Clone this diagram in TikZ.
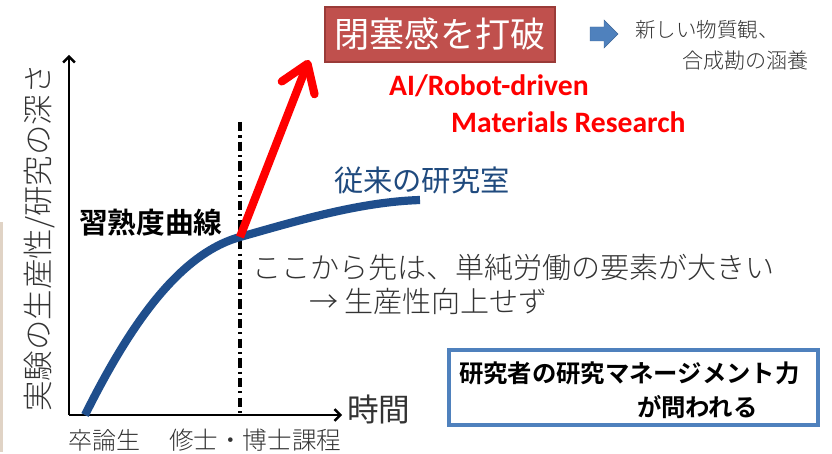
\documentclass[tikz,border=0pt]{standalone}
\usepackage{fontspec}
\IfFontExistsTF{Noto Sans CJK JP Light}
  {\newfontfamily\jp[BoldFont={Noto Sans CJK JP Bold}]{Noto Sans CJK JP Light}}
  {\newfontfamily\jp{Noto Sans CJK JP}}
\newfontfamily\jpr{Noto Sans CJK JP}
\newfontfamily\en{Carlito}
\usetikzlibrary{arrows.meta}
\definecolor{curveblue}{HTML}{1F4E8C}
\definecolor{labblue}{HTML}{1F4A7E}
\definecolor{boxred}{HTML}{C0504D}
\definecolor{boxredline}{HTML}{9A3B38}
\definecolor{accblue}{HTML}{4F81BD}
\definecolor{txtgray}{HTML}{333333}
\newcommand\fsz[1]{\fontsize{#1}{#1}\selectfont}
\tikzset{
  txt/.style={inner sep=0pt, outer sep=0pt, font=\jp, text=txtgray},
  axis/.style={line width=2.1pt, -{Straight Barb[length=5pt,width=10pt]}},
}
\begin{document}
\begin{tikzpicture}[x=0.03cm,y=-0.03cm]
\useasboundingbox (0,0) rectangle (832,454);
% faint strip at the left edge
\fill[brown!60!gray, opacity=0.35] (0,222) rectangle (3,452);

% axes
\coordinate (O) at (69,415);
\coordinate (Ytop) at (69,55);
\coordinate (Xend) at (342,415);
\draw[axis] (O) -- (Ytop);
\draw[axis] (O) -- (Xend);

% dashed separator
\coordinate (Dtop) at (240,122);
\coordinate (Dbot) at (240,415);
\draw[line width=2.8pt, dash pattern=on 8pt off 3.5pt on 1.8pt off 3.5pt] (Dtop) -- (Dbot);

% learning curve
\coordinate (C0) at (85,415);
\coordinate (C1) at (240,237);
\coordinate (C2) at (420,200);
\draw[curveblue, line width=7pt]
  (C0) .. controls (125,335) and (175,255) .. (C1)
       .. controls (300,220) and (360,202) .. (C2);

% red breakthrough arrow
\coordinate (R1) at (309,60);
\draw[red, line width=7pt, -{Straight Barb[length=22pt,width=30pt,round]}] (C1) -- (R1);

% labels
\node[txt, rotate=90] (ylab) at (39,238) {\fsz{26pt}実験の生産性/研究の深さ};
\node[txt, anchor=west, font=\jpr] (xlab) at (347,409) {\fsz{27pt}時間};
\node[txt, anchor=west] (t1) at (68,440) {\fsz{20.5pt}卒論生};
\node[txt, anchor=west] (t2) at (169,440) {\fsz{21pt}修士・博士課程};

\node[txt, anchor=west, text=black] (lc) at (79,223) {\fsz{24.5pt}\bfseries 習熟度曲線};
\node[txt, anchor=west, text=labblue, font=\jpr] (conv) at (334,180) {\fsz{25pt}従来の研究室};
\node[txt, anchor=west] (l1) at (252,268) {\fsz{24.8pt}ここから先は、単純労働の要素が大きい};
\node[txt, anchor=west] (l2) at (309,301) {\fsz{24.8pt}→ 生産性向上せず};

% red box
\node[draw=boxredline, fill=boxred, line width=1pt, text=white, font=\jpr,
      minimum width=230*0.03cm, minimum height=55*0.03cm, inner sep=0pt]
      (brk) at (440,34.5) {\fsz{30pt}閉塞感を打破};

\node[inner sep=0pt, anchor=west, text=red, font=\en\bfseries] (ai1) at (389,86) {\fsz{25.3pt}AI/Robot-driven};
\node[inner sep=0pt, anchor=west, text=red, font=\en\bfseries] (ai2) at (451,122) {\fsz{25.3pt}Materials Research};

% block arrow
\fill[accblue, draw=accblue!80!black, line width=0.4pt]
  (590,27) -- (604,27) -- (604,20) -- (618,34) -- (604,48) -- (604,41) -- (590,41) -- cycle;
\node[txt, anchor=west, text=txtgray] (n1) at (635,30) {\fsz{17.5pt}新しい物質観、};
\node[txt, anchor=west, text=txtgray] (n2) at (682,61) {\fsz{18pt}合成勘の涵養};

% management box
\node[draw=accblue, line width=2.6pt, minimum width=369*0.03cm, minimum height=75*0.03cm, inner sep=0pt]
  (mbox) at (633.5,387.5) {};
\node[txt, anchor=west, text=black] (m1) at (459,373) {\fsz{20.8pt}\bfseries 研究者の研究マネージメント力};
\node[txt, anchor=west, text=black] (m2) at (637,407) {\fsz{20.8pt}\bfseries が問われる};
\end{tikzpicture}
\end{document}
